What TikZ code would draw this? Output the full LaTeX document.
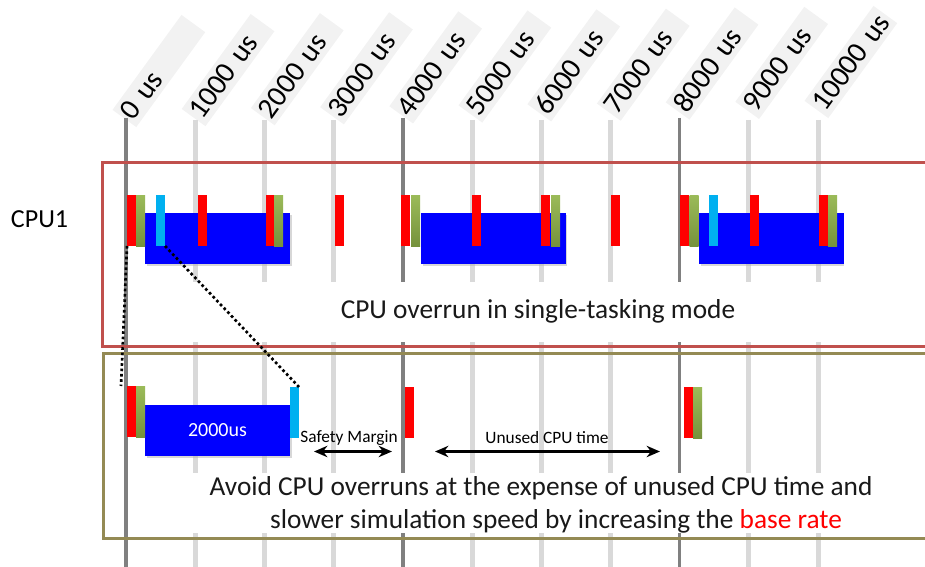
\documentclass[tikz,border=0pt]{standalone}
\usepackage{fontspec}
\setmainfont{Carlito}
\usetikzlibrary{arrows.meta,calc}
\definecolor{tred}{HTML}{FF0000}
\definecolor{tgreenT}{HTML}{9BBB59}
\definecolor{tgreenB}{HTML}{76923C}
\definecolor{tcyan}{HTML}{00B0F0}
\definecolor{tblue}{HTML}{0000FF}
\definecolor{frameRed}{HTML}{C0504D}
\definecolor{frameOlive}{HTML}{948A54}
\definecolor{gridDark}{HTML}{808080}
\definecolor{gridLight}{HTML}{D9D9D9}
\definecolor{labelBg}{HTML}{F2F2F2}
\definecolor{shadowGray}{HTML}{B0B0B0}
\begin{document}
\begin{tikzpicture}[x=0.75pt,y=-0.75pt,
  every node/.style={inner sep=0pt, outer sep=0pt},
  task/.style={minimum width=6.75pt, minimum height=38.25pt, anchor=north west},
  tr/.style={task, fill=tred},
  tg/.style={task, top color=tgreenT, bottom color=tgreenB},
  tc/.style={task, fill=tcyan},
  tb/.style={minimum width=108.75pt, minimum height=38.25pt, anchor=north west, fill=tblue, text=white, font=\fontsize{15}{18}\selectfont},
  gl/.style={gridLight, line width=3.75pt},
  gd/.style={gridDark, line width=2.6pt},
  axlabel/.style={fill=labelBg, rotate=54, anchor=base west, text width=84pt, inner xsep=2pt, minimum height=22pt, align=left, font=\fontsize{22}{26}\selectfont},
  frameR/.style={draw=frameRed, line width=2.25pt},
  frameO/.style={draw=frameOlive, line width=2.25pt},
  zoomline/.style={black, line width=2pt, dash pattern=on 2pt off 2pt},
  dimarrow/.style={{Stealth[length=10pt,width=8.5pt]}-{Stealth[length=10pt,width=8.5pt]}, line width=2.25pt},
  maintext/.style={font=\fontsize{20.5}{24}\selectfont, anchor=base, text=black!90},
  smalltext/.style={font=\fontsize{13}{15}\selectfont},
]
\useasboundingbox (0,0) rectangle (925,567);
% axis labels
\foreach \i/\t in {0/0 us,1/1000 us,2/2000 us,3/3000 us,4/4000 us,5/5000 us,6/6000 us,7/7000 us,8/8000 us,9/9000 us,10/10000 us}
  \node[axlabel] (lab\i) at ({126+69.2*\i+6},{124-0.9*\i}) {\t};
% grid lines
\foreach \i in {1,2,3,5,6,7,9,10} \draw[gl] ({126+69.2*\i},120) -- ({126+69.2*\i},567);
\foreach \i in {0,4,8} \draw[gd] ({126+69.2*\i},118) -- ({126+69.2*\i},567);
% white text backgrounds
\fill[white] (140,282) rectangle (925,342);
\fill[white] (140,473) rectangle (925,533);
% frames
\draw[frameR] (102,162) rectangle (945,346);
\draw[frameO] (103,353) rectangle (945,538);
% CPU1 label
\node[font=\fontsize{19.5}{23}\selectfont, anchor=base west] (cpu1) at (11,227) {CPU1};
% shadows
\foreach \x/\y/\w in {145/213/145, 421/213/144, 699/213/143, 145/404.5/145}
  \fill[shadowGray, opacity=0.5] (\x+2,\y+2) rectangle (\x+\w+2,\y+53);
% top row
\node[tb] (top-b0) at (145,213) {};
\node[tb] (top-b4) at (421,213) {};
\node[tb] (top-b8) at (699,213) {};
\foreach \n/\s/\x in {r0/tr/127, g0/tg/136, c0/tc/156, r1/tr/197.5, r2/tr/265.5, g2/tg/274, r3/tr/335, r4/tr/401, g4/tg/411, r5/tr/472, r6/tr/541, g6/tg/551, r7/tr/611, r8/tr/680, g8/tg/689.5, c8/tc/708.5, r9/tr/750, r10/tr/818.5, g10/tg/828}
  \node[\s] (top-\n) at (\x,195) {};
% bottom row
\node[tb] (bot-b0) at (145,404.5) {2000us};
\node[tr] (bot-r0) at (127,386) {};
\node[tg] (bot-g0) at (136,386) {};
\node[tc] (bot-c0) at (290,387) {};
\node[tr] (bot-r4) at (405,387) {};
\node[tr] (bot-r8) at (683.5,387) {};
\node[tg] (bot-g8) at (693,387) {};
% zoom lines
\draw[zoomline] (top-r0.south west) -- ($(bot-r0.north west)+(-6,0)$);
\draw[zoomline] (top-c0.south east) -- (bot-c0.north east);
% dimension arrows
\coordinate (sm-l) at (314,451.5);
\coordinate (sm-r) at (392,451.5);
\draw[dimarrow] (sm-l) -- (sm-r);
\node[smalltext] (sm-lab) at (349,438) {Safety Margin};
\coordinate (un-l) at (435,451.5);
\coordinate (un-r) at (660,451.5);
\draw[dimarrow] (un-l) -- (un-r);
\node[smalltext] (un-lab) at (547,438) {Unused CPU time};
% texts
\node[maintext] (t1) at (538,318) {CPU overrun in single-tasking mode};
\node[maintext] (t2) at (541,495) {Avoid CPU overruns at the expense of unused CPU time and};
\node[maintext] (t3) at (556,528) {slower simulation speed by increasing the \textcolor{tred}{base rate}};
\end{tikzpicture}
\end{document}
